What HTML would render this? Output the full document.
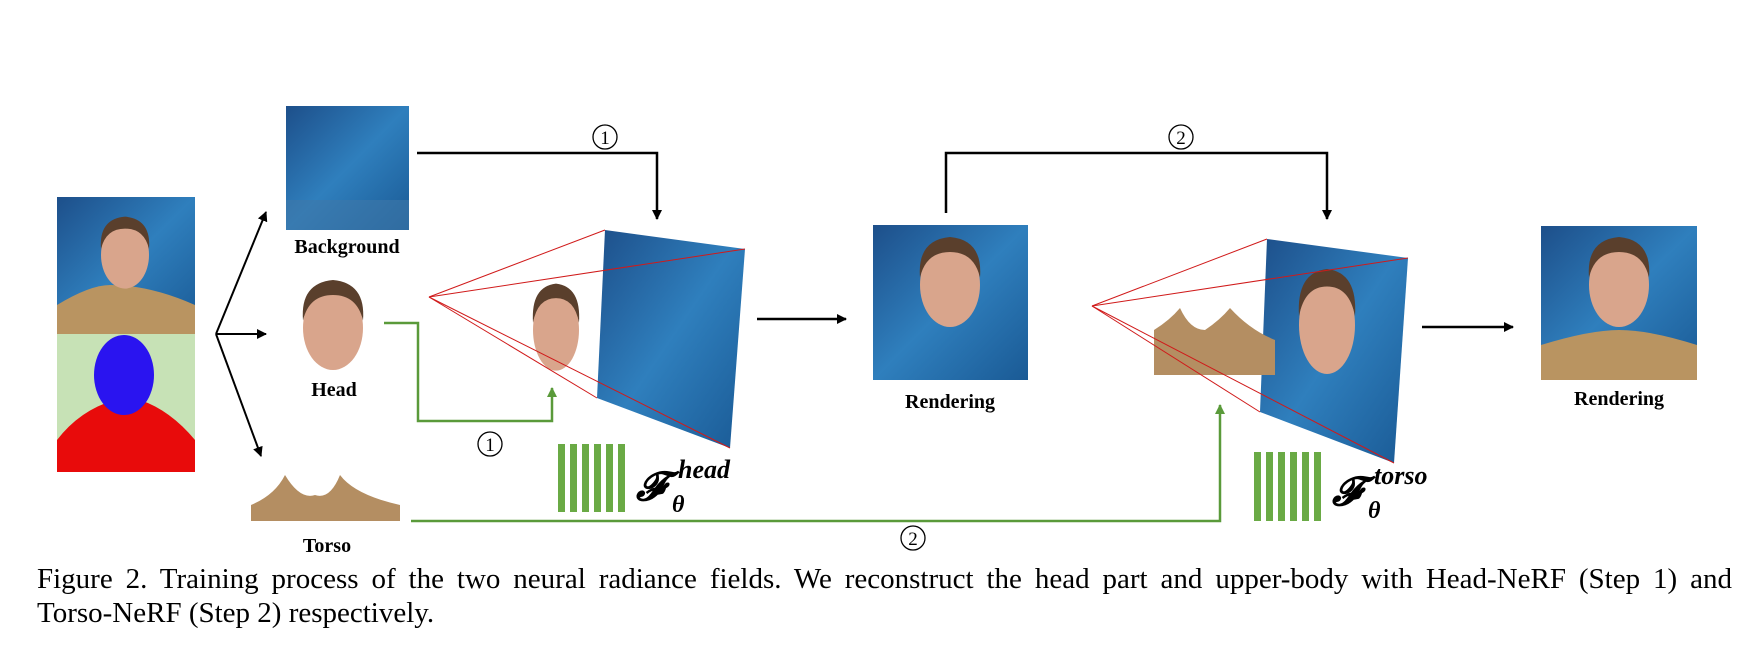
<!DOCTYPE html>
<html><head><meta charset="utf-8"><style>
html,body{margin:0;padding:0;background:#fff;width:1748px;height:646px;overflow:hidden;position:relative}
svg{display:block}
.lbl{font-family:"Liberation Serif",serif;font-weight:bold;font-size:20px}
.cap{position:absolute;left:37px;width:1695px;font-family:"Liberation Serif",serif;font-size:29px;line-height:34px;white-space:nowrap}
.l1{top:562px;text-align:justify;text-align-last:justify;white-space:normal}
.l2{top:596px}
</style></head><body>
<svg width="1748" height="646" viewBox="0 0 1748 646" xmlns="http://www.w3.org/2000/svg">
<defs>
<linearGradient id="bg" x1="0" y1="0" x2="1" y2="1"><stop offset="0" stop-color="#1d4f8a"/><stop offset="0.5" stop-color="#2f7fbd"/><stop offset="1" stop-color="#1a5a95"/></linearGradient>
<marker id="ab" markerWidth="10" markerHeight="10" refX="9" refY="5" orient="auto" markerUnits="userSpaceOnUse"><path d="M0,0 L10,5 L0,10 z" fill="#000"/></marker>
<marker id="ag" markerWidth="10" markerHeight="10" refX="9" refY="5" orient="auto" markerUnits="userSpaceOnUse"><path d="M0,0 L10,5 L0,10 z" fill="#5a9a3a"/></marker>
<g id="face"><ellipse cx="0" cy="0" rx="20" ry="28" fill="#d9a58c"/><path d="M-20,-5 Q-22,-30 0,-32 Q22,-30 20,-5 Q16,-22 0,-22 Q-16,-22 -20,-5z" fill="#5a3f2c"/></g>
</defs>
<rect x="57" y="197" width="138" height="137" fill="url(#bg)"/>
<path d="M57,334 L57,305 Q90,285 110,285 Q150,285 195,305 L195,334z" fill="#b99461"/>
<use href="#face" transform="translate(125,255) scale(1.2)"/>
<rect x="57" y="334" width="138" height="138" fill="#c7e2b6"/>
<path d="M57,472 L57,440 Q80,410 115,400 L140,400 Q170,410 195,440 L195,472z" fill="#e80b0b"/>
<ellipse cx="124" cy="375" rx="30" ry="40" fill="#2a14f0"/>
<g stroke="#000" stroke-width="2" fill="none">
<line x1="216" y1="334" x2="266" y2="212" marker-end="url(#ab)"/>
<line x1="216" y1="334" x2="266" y2="334" marker-end="url(#ab)"/>
<line x1="216" y1="334" x2="261" y2="456" marker-end="url(#ab)"/>
</g>
<rect x="286" y="106" width="123" height="124" fill="url(#bg)"/>
<rect x="286" y="200" width="123" height="30" fill="#3f78a8" opacity="0.6"/>
<text class="lbl" x="347" y="253" text-anchor="middle">Background</text>
<use href="#face" transform="translate(333,328) scale(1.5)"/>
<text class="lbl" x="334" y="396" text-anchor="middle">Head</text>
<path d="M251,521 L251,505 Q275,495 285,475 Q300,500 315,495 Q330,500 340,475 Q355,495 400,505 L400,521z" fill="#b48e62"/>
<text class="lbl" x="327" y="552" text-anchor="middle">Torso</text>
<polyline points="417,153 657,153 657,219" stroke="#000" stroke-width="2.5" fill="none" marker-end="url(#ab)"/>
<circle cx="605" cy="137" r="12" fill="none" stroke="#000" stroke-width="1.3"/><text x="605" y="144" font-family="Liberation Serif" font-size="19" text-anchor="middle">1</text>
<polygon points="605,230 745,249 730,448 597,398" fill="url(#bg)"/>
<use href="#face" transform="translate(556,330) scale(1.15,1.45)"/>
<g stroke="#d01a1a" stroke-width="1" fill="none">
<line x1="429" y1="297" x2="605" y2="230"/><line x1="429" y1="297" x2="745" y2="249"/>
<line x1="429" y1="297" x2="730" y2="448"/><line x1="429" y1="297" x2="597" y2="398"/>
</g>
<polyline points="384,323 418,323 418,421 552,421 552,388" stroke="#5a9a3a" stroke-width="2.5" fill="none" marker-end="url(#ag)"/>
<circle cx="490" cy="444" r="12" fill="none" stroke="#000" stroke-width="1.3"/><text x="490" y="451" font-family="Liberation Serif" font-size="19" text-anchor="middle">1</text>
<g fill="#6aaa45"><rect x="558" y="444" width="7" height="68"/><rect x="570" y="444" width="7" height="68"/><rect x="582" y="444" width="7" height="68"/><rect x="594" y="444" width="7" height="68"/><rect x="606" y="444" width="7" height="68"/><rect x="618" y="444" width="7" height="68"/></g>
<text x="636" y="500" font-family="Liberation Serif" font-style="italic" font-weight="bold" font-size="40">𝓕</text>
<text x="678" y="478" font-family="Liberation Serif" font-style="italic" font-weight="bold" font-size="26">head</text>
<text x="672" y="512" font-family="Liberation Serif" font-style="italic" font-weight="bold" font-size="24">θ</text>
<line x1="757" y1="319" x2="846" y2="319" stroke="#000" stroke-width="2.5" marker-end="url(#ab)"/>
<rect x="873" y="225" width="155" height="155" fill="url(#bg)"/>
<use href="#face" transform="translate(950,285) scale(1.5)"/>
<text class="lbl" x="950" y="408" text-anchor="middle">Rendering</text>
<polyline points="946,213 946,153 1327,153 1327,219" stroke="#000" stroke-width="2.5" fill="none" marker-end="url(#ab)"/>
<circle cx="1181" cy="137" r="12" fill="none" stroke="#000" stroke-width="1.3"/><text x="1181" y="144" font-family="Liberation Serif" font-size="19" text-anchor="middle">2</text>
<polygon points="1267,239 1408,258 1394,463 1260,412" fill="url(#bg)"/>
<use href="#face" transform="translate(1327,325) scale(1.4,1.75)"/>
<path d="M1154,375 L1154,330 Q1170,320 1180,308 Q1190,330 1205,330 Q1220,320 1230,308 Q1250,330 1275,340 L1275,375z" fill="#b48e62"/>
<g stroke="#d01a1a" stroke-width="1" fill="none">
<line x1="1092" y1="306" x2="1267" y2="239"/><line x1="1092" y1="306" x2="1408" y2="258"/>
<line x1="1092" y1="306" x2="1394" y2="463"/><line x1="1092" y1="306" x2="1260" y2="412"/>
</g>
<polyline points="411,521 1220,521 1220,405" stroke="#5a9a3a" stroke-width="2.5" fill="none" marker-end="url(#ag)"/>
<circle cx="913" cy="538" r="12" fill="none" stroke="#000" stroke-width="1.3"/><text x="913" y="545" font-family="Liberation Serif" font-size="19" text-anchor="middle">2</text>
<g fill="#6aaa45"><rect x="1254" y="452" width="7" height="69"/><rect x="1266" y="452" width="7" height="69"/><rect x="1278" y="452" width="7" height="69"/><rect x="1290" y="452" width="7" height="69"/><rect x="1302" y="452" width="7" height="69"/><rect x="1314" y="452" width="7" height="69"/></g>
<text x="1332" y="505" font-family="Liberation Serif" font-style="italic" font-weight="bold" font-size="40">𝓕</text>
<text x="1374" y="484" font-family="Liberation Serif" font-style="italic" font-weight="bold" font-size="26">torso</text>
<text x="1368" y="518" font-family="Liberation Serif" font-style="italic" font-weight="bold" font-size="24">θ</text>
<line x1="1422" y1="327" x2="1513" y2="327" stroke="#000" stroke-width="2.5" marker-end="url(#ab)"/>
<rect x="1541" y="226" width="156" height="154" fill="url(#bg)"/>
<path d="M1541,380 L1541,345 Q1590,330 1619,330 Q1650,330 1697,345 L1697,380z" fill="#b99461"/>
<use href="#face" transform="translate(1619,285) scale(1.5)"/>
<text class="lbl" x="1619" y="405" text-anchor="middle">Rendering</text>
</svg>
<div class="cap l1">Figure 2. Training process of the two neural radiance fields. We reconstruct the head part and upper-body with Head-NeRF (Step 1) and</div>
<div class="cap l2">Torso-NeRF (Step 2) respectively.</div>
</body></html>
